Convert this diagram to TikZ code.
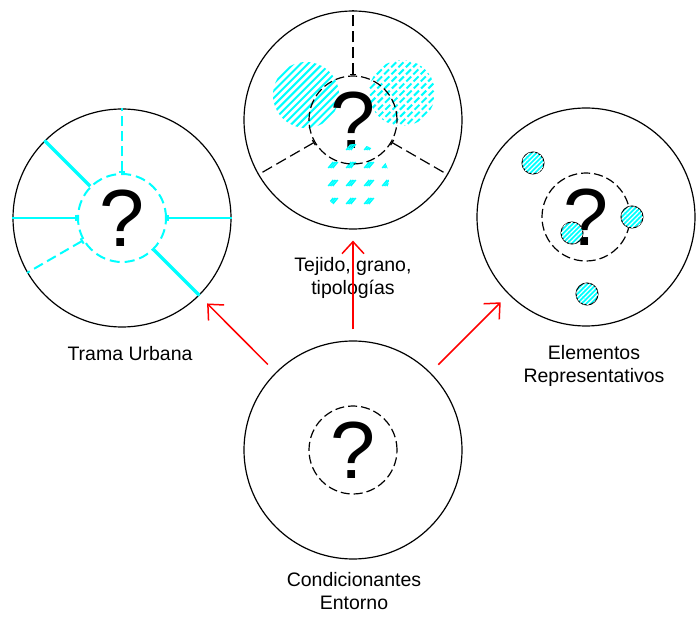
\documentclass[tikz,border=0pt]{standalone}
\usepackage{fontspec}
\setsansfont{Liberation Sans}
\definecolor{urbcyan}{RGB}{0,255,255}
\definecolor{urbred}{RGB}{255,0,0}
\tikzset{every picture/.style={/utils/exec={\sffamily}}}
\usetikzlibrary{calc}
\usetikzlibrary{positioning}
\usetikzlibrary{patterns.meta}
\usetikzlibrary{arrows.meta}

\begin{document}
\begin{tikzpicture}[x=1pt, y=-1pt,
  ring/.style={draw, circle, line width=1.2pt, minimum size=218pt, inner sep=0pt, font=\fontsize{81}{81}\selectfont},
  core/.style={draw, circle, line width=1.2pt, dash pattern=on 9pt off 4pt, minimum size=88pt, inner sep=0pt},
  lbl/.style={align=center, inner sep=0pt, font=\fontsize{19.5}{23}\selectfont},
  flow/.style={-{Straight Barb[length=12pt,width=22pt]}, urbred, line width=1.5pt, shorten <=11pt, shorten >=11pt},
  cyandash/.style={urbcyan, line width=2pt, dash pattern=on 10pt off 5pt, {Bar[width=6pt]}-},
  cyanthin/.style={urbcyan, line width=2pt, {Bar[width=6pt]}-},
  cyanthick/.style={urbcyan, line width=3.5pt},
  blackdash/.style={line width=1.2pt, dash pattern=on 11pt off 5pt, {Bar[width=6pt]}-},
  site/.style={draw, circle, line width=1pt, minimum size=22pt, inner sep=0pt, fill=urbcyan,
    postaction={pattern={Lines[angle=45,distance=3.3pt,line width=1.2pt]}, pattern color=white}}]

  \path [use as bounding box, fill=white] (0,0) rectangle (697,617);

  % left circle: trama urbana
  \node [ring] (trama) at (122,218) {?};
  \node [core, draw=urbcyan, line width=2pt, dash pattern=on 10pt off 5pt] (tramac) at (trama) {};
  \foreach \a/\s in {90/cyandash, 210/cyandash, 0/cyanthin, 180/cyanthin, 135/cyanthick, 315/cyanthick}
    \draw [\s] (tramac.\a) -- (trama.\a);

  % top circle: tejido
  \begin{scope}
    \clip (306,95) circle (33);
    \foreach \k in {-7,...,7} \draw [urbcyan, line width=2pt] (306+\k*7.3-45,95+45) -- ++(90,-90);
  \end{scope}
  \begin{scope}
    \clip (402,93) circle (33);
    \foreach \k in {-7,...,7} \draw [urbcyan, line width=2pt, dash pattern=on 7pt off 3pt] (402+\k*7.3-45,93+45) -- ++(90,-90);
  \end{scope}
  \node [ring] (tejido) at (353,120) {?};
  \begin{scope}
    \clip (355,178) circle (34);
    \foreach \cx in {333,351,369,387}
      \foreach \cy in {147,165,183,201}
        \foreach \d in {-2.2,0,2.2} \draw [urbcyan, line width=1.6pt] (\cx+\d-2.5,\cy+3) -- ++(5,-6);
  \end{scope}
  \node [core] (tejidoc) at (tejido) {};
  \foreach \a in {90,210,330} \draw [blackdash] (tejidoc.\a) -- (tejido.\a);

  % right circle: elementos
  \node [ring] (elem) at (586,217) {?};
  \node [core] (elemc) at (elem) {};
  \foreach \p [count=\i] in {(533,163),(632,217),(572,233),(587,294)} \node [site] (s\i) at \p {};

  % bottom circle: condicionantes
  \node [ring] (cond) at (353,450) {?};
  \node [core] (condc) at (cond) {};

  % labels
  \node [lbl] (tramal) at (130,354) {Trama Urbana};
  \node [lbl] (tejidol) at (353,278) {Tejido, grano,\\tipologías};
  \node [lbl] (eleml) at (594,366) {Elementos\\Representativos};
  \node [lbl] (condl) at (354,591) {Condicionantes\\Entorno};

  % arrows
  \draw [flow] (cond) -- (trama);
  \draw [flow] (cond) -- (tejido);
  \draw [flow] (cond) -- (elem);

\end{tikzpicture}
\end{document}
